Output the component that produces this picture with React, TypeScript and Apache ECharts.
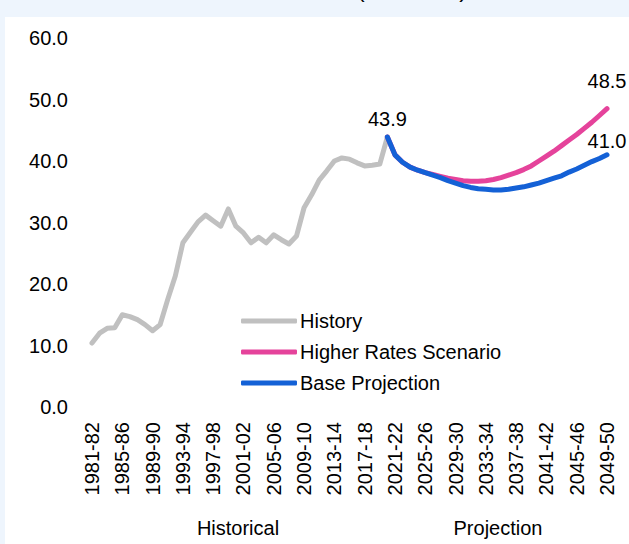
import React, { useEffect, useRef } from "react";
import * as echarts from "echarts";

const startYear = 1981;
const endYear = 2049;
const categories: string[] = [];
for (let y = startYear; y <= endYear; y++) {
  categories.push(`${y}-${String((y + 1) % 100).padStart(2, "0")}`);
}

const historyValues = [
  10.4, 12.0, 12.8, 12.9, 15.0, 14.7, 14.2, 13.4, 12.4, 13.4,
  17.5, 21.3, 26.7, 28.4, 30.1, 31.2, 30.3, 29.4, 32.2, 29.4,
  28.3, 26.7, 27.6, 26.7, 28.0, 27.2, 26.5, 27.8, 32.4, 34.5,
  36.9, 38.4, 40.0, 40.5, 40.3, 39.7, 39.2, 39.3, 39.5, 43.9,
];

const baseValues = [
  43.9, 41.0, 39.8, 39.0, 38.5, 38.1, 37.7, 37.3, 36.8, 36.4,
  36.0, 35.7, 35.5, 35.4, 35.3, 35.3, 35.4, 35.6, 35.8, 36.1,
  36.4, 36.8, 37.2, 37.6, 38.2, 38.7, 39.3, 39.9, 40.4, 41.0,
];

const higherValues = [
  43.9, 41.0, 39.8, 39.0, 38.5, 38.1, 37.8, 37.5, 37.2, 37.0,
  36.8, 36.7, 36.7, 36.8, 37.0, 37.3, 37.7, 38.1, 38.6, 39.2,
  40.0, 40.8, 41.6, 42.5, 43.4, 44.3, 45.3, 46.3, 47.4, 48.5,
];

const projectionStart = 39;
const seriesNames = ["History", "Higher Rates Scenario", "Base Projection"];
const colors = ["#C0C0C0", "#E5439B", "#1461D6"];
const sectionLabels = ["Historical", "Projection"];
const titleTail = "(Per Cent)";

const FONT = "'Liberation Sans', Arial, sans-serif";

function padProjection(vals: number[], labelIdx: Record<number, number>) {
  const out: any[] = [];
  for (let i = 0; i < projectionStart; i++) out.push(null);
  vals.forEach((v, k) => {
    const idx = projectionStart + k;
    if (labelIdx[idx] !== undefined) {
      out.push({
        value: v,
        symbol: "circle",
        symbolSize: 1,
        itemStyle: { color: "rgba(0,0,0,0)", borderColor: "rgba(0,0,0,0)", borderWidth: 0 },
        label: {
          show: true,
          position: "top",
          distance: labelIdx[idx],
          fontSize: 20,
          color: "#000",
          opacity: 1,
          fontFamily: FONT,
          formatter: (p: any) => Number(p.value).toFixed(1),
        },
      });
    } else out.push(v);
  });
  return out;
}

export default function App() {
  const ref = useRef<HTMLDivElement>(null);
  useEffect(() => {
    if (!ref.current) return;
    const chart = echarts.init(ref.current, undefined, { renderer: "svg" });
    const lastIdx = categories.length - 1;
    const option: any = {
      animation: false,
      backgroundColor: "#EEF5FD",
      textStyle: { fontFamily: FONT },
      grid: { left: 92, right: 22, top: 38, bottom: 137, containLabel: false },
      legend: {
        orient: "vertical",
        left: 236,
        top: 306,
        padding: 5,
        icon: "roundRect",
        itemWidth: 56,
        itemHeight: 5,
        itemGap: 11,
        selectedMode: false,
        data: seriesNames,
        textStyle: { fontSize: 20, color: "#000", fontFamily: FONT, lineHeight: 20, padding: [0, 0, 0, -2] },
      },
      xAxis: {
        type: "category",
        data: categories,
        boundaryGap: false,
        axisLine: { show: false },
        axisTick: { show: false },
        axisLabel: {
          interval: 3,
          rotate: 90,
          margin: 15,
          fontSize: 20,
          color: "#000",
          fontFamily: FONT,
        },
        splitLine: { show: false },
      },
      yAxis: {
        type: "value",
        min: 0,
        max: 60,
        interval: 10,
        axisLine: { show: false },
        axisTick: { show: false },
        splitLine: { show: false },
        axisLabel: {
          margin: 24,
          fontSize: 20,
          color: "#000",
          fontFamily: FONT,
          formatter: (v: number) => v.toFixed(1),
        },
      },
      graphic: [
        {
          type: "rect",
          z: -10,
          silent: true,
          shape: { x: 5, y: 17, width: 700, height: 600 },
          style: { fill: "#FFFFFF" },
        },
        {
          type: "text",
          silent: true,
          style: {
            text: titleTail,
            x: 412,
            y: -12,
            textAlign: "center",
            textVerticalAlign: "middle",
            fontSize: 24,
            fontFamily: FONT,
            fill: "#000",
          },
        },
        {
          type: "text",
          silent: true,
          style: {
            text: sectionLabels[0],
            x: 238,
            y: 528,
            textAlign: "center",
            textVerticalAlign: "middle",
            fontSize: 20,
            fontFamily: FONT,
            fill: "#000",
          },
        },
        {
          type: "text",
          silent: true,
          style: {
            text: sectionLabels[1],
            x: 498,
            y: 528,
            textAlign: "center",
            textVerticalAlign: "middle",
            fontSize: 20,
            fontFamily: FONT,
            fill: "#000",
          },
        },
      ],
      series: [
        {
          name: seriesNames[0],
          type: "line",
          data: historyValues,
          symbol: "none",
          color: colors[0],
          lineStyle: { width: 5, color: colors[0], cap: "round", join: "round" },
          z: 2,
        },
        {
          name: seriesNames[1],
          type: "line",
          data: padProjection(higherValues, { [lastIdx]: 17 }),
          symbol: "none",
          showAllSymbol: true,
          color: colors[1],
          lineStyle: { width: 5, color: colors[1], cap: "round", join: "round" },
          z: 3,
        },
        {
          name: seriesNames[2],
          type: "line",
          data: padProjection(baseValues, { [projectionStart]: 8, [lastIdx]: 3 }),
          symbol: "none",
          showAllSymbol: true,
          color: colors[2],
          lineStyle: { width: 5, color: colors[2], cap: "round", join: "round" },
          z: 4,
        },
      ],
    };
    chart.setOption(option);
    return () => chart.dispose();
  }, []);
  return (
    <div
      ref={ref}
      style={{ position: "fixed", left: 0, top: 0, width: 629, height: 544 }}
    />
  );
}
